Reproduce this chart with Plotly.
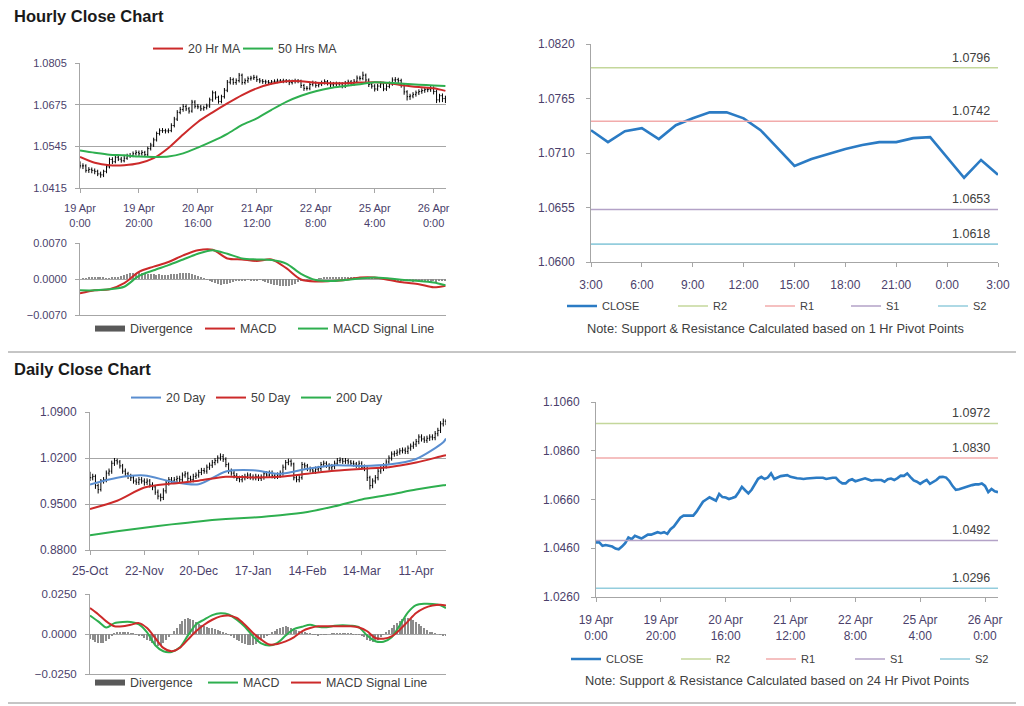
import plotly.graph_objects as go

# ---------------- DATA ----------------
# Hourly bars 19 Apr 0:00 .. 26 Apr ~4:00 (125 bars, weekend skipped)
hourly_ticks = [0, 20, 40, 60, 80, 100, 120]
hourly_ticktext = ["19 Apr<br>0:00", "19 Apr<br>20:00", "20 Apr<br>16:00", "21 Apr<br>12:00",
                   "22 Apr<br>8:00", "25 Apr<br>4:00", "26 Apr<br>0:00"]
hourly_first_open = 1.0490
hourly_close = [
    1.0484, 1.0484, 1.0470, 1.0473, 1.0470, 1.0467, 1.0459, 1.0456, 1.0467, 1.0481,
    1.0504, 1.0497, 1.0511, 1.0505, 1.0500, 1.0508, 1.0516, 1.0516, 1.0522, 1.0526,
    1.0522, 1.0526, 1.0519, 1.0538, 1.0549, 1.0565, 1.0585, 1.0594, 1.0594, 1.0593,
    1.0594, 1.0610, 1.0630, 1.0651, 1.0660, 1.0669, 1.0662, 1.0655, 1.0683, 1.0670,
    1.0668, 1.0662, 1.0666, 1.0671, 1.0690, 1.0712, 1.0698, 1.0685, 1.0700, 1.0720,
    1.0745, 1.0753, 1.0744, 1.0750, 1.0767, 1.0744, 1.0750, 1.0756, 1.0758, 1.0760,
    1.0753, 1.0749, 1.0747, 1.0746, 1.0744, 1.0746, 1.0748, 1.0749, 1.0749, 1.0749,
    1.0749, 1.0744, 1.0747, 1.0749, 1.0749, 1.0735, 1.0726, 1.0726, 1.0738, 1.0743,
    1.0735, 1.0739, 1.0744, 1.0747, 1.0742, 1.0737, 1.0740, 1.0740, 1.0740, 1.0733,
    1.0743, 1.0746, 1.0740, 1.0748, 1.0758, 1.0757, 1.0767, 1.0752, 1.0738, 1.0733,
    1.0724, 1.0733, 1.0740, 1.0724, 1.0732, 1.0740, 1.0752, 1.0753, 1.0750, 1.0736,
    1.0715, 1.0700, 1.0702, 1.0707, 1.0712, 1.0716, 1.0719, 1.0722, 1.0722, 1.0726,
    1.0716, 1.0690, 1.0703, 1.0694, 1.0690]
hourly_high = [
    1.0498, 1.0492, 1.0489, 1.0480, 1.0479, 1.0476, 1.0472, 1.0466, 1.0472, 1.0487,
    1.0510, 1.0511, 1.0518, 1.0516, 1.0512, 1.0515, 1.0522, 1.0524, 1.0529, 1.0533,
    1.0532, 1.0533, 1.0531, 1.0544, 1.0556, 1.0572, 1.0591, 1.0601, 1.0602, 1.0600,
    1.0601, 1.0617, 1.0637, 1.0658, 1.0668, 1.0677, 1.0676, 1.0668, 1.0690, 1.0689,
    1.0677, 1.0674, 1.0672, 1.0678, 1.0697, 1.0719, 1.0717, 1.0703, 1.0706, 1.0727,
    1.0752, 1.0761, 1.0759, 1.0757, 1.0774, 1.0772, 1.0757, 1.0763, 1.0765, 1.0768,
    1.0766, 1.0758, 1.0755, 1.0753, 1.0752, 1.0752, 1.0754, 1.0756, 1.0755, 1.0756,
    1.0755, 1.0754, 1.0753, 1.0756, 1.0755, 1.0753, 1.0740, 1.0733, 1.0744, 1.0750,
    1.0748, 1.0745, 1.0750, 1.0754, 1.0752, 1.0748, 1.0746, 1.0747, 1.0746, 1.0745,
    1.0749, 1.0753, 1.0752, 1.0755, 1.0766, 1.0765, 1.0778, 1.0772, 1.0757, 1.0744,
    1.0739, 1.0740, 1.0747, 1.0746, 1.0739, 1.0747, 1.0760, 1.0761, 1.0759, 1.0756,
    1.0741, 1.0720, 1.0709, 1.0714, 1.0719, 1.0723, 1.0726, 1.0729, 1.0730, 1.0733,
    1.0732, 1.0722, 1.0709, 1.0710, 1.0703]
hourly_low = [
    1.0476, 1.0474, 1.0463, 1.0462, 1.0461, 1.0458, 1.0452, 1.0447, 1.0449, 1.0461,
    1.0476, 1.0490, 1.0492, 1.0499, 1.0494, 1.0495, 1.0503, 1.0509, 1.0511, 1.0516,
    1.0515, 1.0516, 1.0512, 1.0514, 1.0532, 1.0543, 1.0560, 1.0579, 1.0587, 1.0585,
    1.0586, 1.0589, 1.0604, 1.0624, 1.0645, 1.0653, 1.0655, 1.0647, 1.0650, 1.0663,
    1.0661, 1.0655, 1.0656, 1.0660, 1.0665, 1.0684, 1.0691, 1.0678, 1.0679, 1.0694,
    1.0714, 1.0738, 1.0737, 1.0737, 1.0744, 1.0737, 1.0738, 1.0743, 1.0750, 1.0752,
    1.0746, 1.0742, 1.0740, 1.0739, 1.0737, 1.0738, 1.0740, 1.0742, 1.0743, 1.0742,
    1.0743, 1.0736, 1.0738, 1.0741, 1.0742, 1.0727, 1.0718, 1.0719, 1.0720, 1.0732,
    1.0728, 1.0729, 1.0733, 1.0738, 1.0735, 1.0730, 1.0731, 1.0733, 1.0734, 1.0726,
    1.0727, 1.0737, 1.0733, 1.0734, 1.0742, 1.0750, 1.0751, 1.0745, 1.0730, 1.0725,
    1.0716, 1.0718, 1.0727, 1.0717, 1.0718, 1.0726, 1.0734, 1.0745, 1.0742, 1.0728,
    1.0706, 1.0688, 1.0690, 1.0695, 1.0700, 1.0705, 1.0709, 1.0712, 1.0714, 1.0715,
    1.0707, 1.0680, 1.0682, 1.0683, 1.0680]

# Hourly moving averages / MACD, read every 5 hours
ma_hours = [0, 5, 10, 15, 20, 25, 30, 35, 40, 45, 50, 55, 60, 65, 70, 75, 80, 85, 90,
            95, 100, 105, 110, 115, 120, 124]
ma20_hr = [1.0512, 1.0494, 1.0486, 1.0486, 1.0492, 1.0508, 1.0540, 1.0582, 1.0621, 1.0651,
           1.0679, 1.0705, 1.0726, 1.0740, 1.0748, 1.0748, 1.0743, 1.0742, 1.0742, 1.0744,
           1.0745, 1.0742, 1.0735, 1.0730, 1.0726, 1.0718]
ma50_hr = [1.0532, 1.0525, 1.0519, 1.0517, 1.0513, 1.0512, 1.0513, 1.0523, 1.0541, 1.0561,
           1.0584, 1.0612, 1.0632, 1.0659, 1.0684, 1.0703, 1.0717, 1.0727, 1.0733, 1.0739,
           1.0745, 1.0743, 1.0740, 1.0737, 1.0735, 1.0733]
macd_hr = [-0.0028, -0.0022, -0.0020, -0.0008, 0.0014, 0.0024, 0.0033, 0.0046, 0.0056, 0.0057,
           0.0040, 0.0038, 0.0035, 0.0038, 0.0021, -0.0001, -0.0005, -0.0004, -0.0002, 0.0003,
           0.0003, -0.0002, -0.0007, -0.0010, -0.0016, -0.0013]
signal_hr = [-0.0022, -0.0022, -0.0020, -0.0015, 0.0006, 0.0017, 0.0027, 0.0038, 0.0049, 0.0056,
             0.0049, 0.0040, 0.0038, 0.0037, 0.0030, 0.0010, -0.0002, -0.0004, -0.0002, 0.0001,
             0.0003, 0.0001, -0.0002, -0.0004, -0.0007, -0.0012]
divergence_hr = [
    0.0000, 0.0001, 0.0001, 0.0002, 0.0002, 0.0003, 0.0003, 0.0002, 0.0002, 0.0001,
    0.0001, 0.0002, 0.0003, 0.0004, 0.0006, 0.0008, 0.0010, 0.0011, 0.0012, 0.0012,
    0.0013, 0.0012, 0.0011, 0.0010, 0.0009, 0.0009, 0.0008, 0.0009, 0.0008, 0.0008,
    0.0008, 0.0009, 0.0009, 0.0010, 0.0011, 0.0012, 0.0012, 0.0011, 0.0009, 0.0007,
    0.0005, 0.0003, 0.0001, -0.0001, -0.0003, -0.0006, -0.0008, -0.0010, -0.0011, -0.0010,
    -0.0009, -0.0008, -0.0006, -0.0004, -0.0003, -0.0002, -0.0002, -0.0001, -0.0002, -0.0003,
    -0.0002, -0.0001, -0.0003, -0.0005, -0.0007, -0.0009, -0.0011, -0.0012, -0.0013, -0.0014,
    -0.0014, -0.0013, -0.0011, -0.0009, -0.0006, -0.0004, -0.0002, -0.0001, 0.0000, 0.0000,
    0.0000, 0.0001, 0.0001, 0.0002, 0.0002, 0.0003, 0.0003, 0.0003, 0.0003, 0.0002,
    0.0002, 0.0003, 0.0002, 0.0002, 0.0003, 0.0002, 0.0002, 0.0002, 0.0003, 0.0002,
    0.0002, 0.0001, 0.0001, 0.0000, -0.0001, -0.0001, -0.0002, -0.0002, -0.0003, -0.0003,
    -0.0003, -0.0004, -0.0004, -0.0005, -0.0004, -0.0005, -0.0005, -0.0004, -0.0005, -0.0005,
    -0.0004, -0.0005, -0.0004, -0.0003, -0.0004]

# Last 24 hours close (top right)
last24_ticktext = ["3:00", "6:00", "9:00", "12:00", "15:00", "18:00", "21:00", "0:00", "3:00"]
last24_close = [1.0733, 1.0721, 1.0732, 1.0735, 1.0724, 1.0738, 1.0745, 1.0751, 1.0751, 1.0745,
                1.0733, 1.0715, 1.0697, 1.0704, 1.0709, 1.0714, 1.0718, 1.0721, 1.0721, 1.0725,
                1.0726, 1.0705, 1.0685, 1.0703, 1.0688]
levels_1hr = {"R2": 1.0796, "R1": 1.0742, "S1": 1.0653, "S2": 1.0618}
levels_24hr = {"R2": 1.0972, "R1": 1.0830, "S1": 1.0492, "S2": 1.0296}

# Daily bars 25-Oct .. 26-Apr (132 trading days)
daily_ticks = [0, 20, 40, 60, 80, 100, 120]
daily_ticktext = ["25-Oct", "22-Nov", "20-Dec", "17-Jan", "14-Feb", "14-Mar", "11-Apr"]
daily_first_open = 0.995
daily_close = [
    0.990, 0.992, 0.978, 0.972, 0.985, 0.987, 0.997, 1.000, 1.012, 1.016,
    1.014, 1.008, 1.000, 0.996, 0.992, 0.990, 0.985, 0.983, 0.987, 0.985,
    0.983, 0.985, 0.979, 0.976, 0.968, 0.962, 0.960, 0.970, 0.982, 0.987,
    0.985, 0.987, 0.989, 0.987, 0.994, 0.996, 0.989, 0.987, 0.992, 0.994,
    0.998, 1.001, 1.000, 1.006, 1.009, 1.013, 1.016, 1.020, 1.022, 1.018,
    1.010, 1.000, 0.997, 0.993, 0.989, 0.987, 0.990, 0.992, 0.994, 0.991,
    0.990, 0.992, 0.989, 0.991, 0.996, 0.994, 0.997, 0.993, 0.992, 0.994,
    0.997, 1.006, 1.013, 1.015, 1.011, 0.990, 0.987, 0.990, 1.010, 1.008,
    1.004, 1.002, 1.000, 1.003, 1.004, 1.010, 1.012, 1.009, 1.005, 1.007,
    1.012, 1.016, 1.017, 1.015, 1.016, 1.014, 1.012, 1.011, 1.009, 1.012,
    1.006, 1.004, 0.990, 0.978, 0.985, 0.990, 1.000, 1.004, 1.008, 1.014,
    1.020, 1.026, 1.027, 1.029, 1.031, 1.032, 1.030, 1.035, 1.038, 1.041,
    1.045, 1.052, 1.049, 1.047, 1.050, 1.052, 1.051, 1.057, 1.062, 1.072,
    1.076, 1.074]
daily_high = [
    0.999, 0.996, 0.995, 0.981, 0.988, 0.991, 1.001, 1.004, 1.016, 1.020,
    1.019, 1.017, 1.011, 1.004, 0.999, 0.996, 0.994, 0.989, 0.991, 0.991,
    0.989, 0.989, 0.988, 0.983, 0.979, 0.972, 0.966, 0.974, 0.986, 0.991,
    0.991, 0.991, 0.993, 0.993, 0.998, 1.000, 0.999, 0.993, 0.996, 0.998,
    1.002, 1.005, 1.005, 1.010, 1.013, 1.017, 1.020, 1.024, 1.027, 1.026,
    1.021, 1.013, 1.004, 1.001, 0.997, 0.993, 0.994, 0.996, 0.998, 0.997,
    0.995, 0.996, 0.995, 0.995, 1.000, 1.000, 1.001, 1.001, 0.997, 0.998,
    1.001, 1.010, 1.017, 1.019, 1.018, 1.013, 0.993, 0.994, 1.014, 1.013,
    1.011, 1.007, 1.005, 1.007, 1.008, 1.014, 1.016, 1.015, 1.012, 1.011,
    1.016, 1.020, 1.021, 1.020, 1.020, 1.019, 1.017, 1.016, 1.014, 1.016,
    1.015, 1.010, 1.007, 0.993, 0.989, 0.994, 1.004, 1.008, 1.012, 1.018,
    1.024, 1.030, 1.031, 1.033, 1.035, 1.036, 1.036, 1.039, 1.042, 1.045,
    1.049, 1.056, 1.056, 1.053, 1.054, 1.056, 1.056, 1.061, 1.066, 1.076,
    1.080, 1.079]
daily_low = [
    0.985, 0.986, 0.973, 0.966, 0.969, 0.981, 0.983, 0.993, 0.996, 1.008,
    1.010, 1.004, 0.996, 0.991, 0.988, 0.985, 0.981, 0.979, 0.979, 0.981,
    0.978, 0.979, 0.975, 0.971, 0.964, 0.957, 0.954, 0.956, 0.966, 0.978,
    0.981, 0.981, 0.983, 0.983, 0.983, 0.990, 0.985, 0.983, 0.983, 0.988,
    0.990, 0.994, 0.996, 0.996, 1.002, 1.005, 1.009, 1.012, 1.016, 1.014,
    1.006, 0.996, 0.993, 0.989, 0.985, 0.983, 0.983, 0.986, 0.988, 0.987,
    0.986, 0.986, 0.985, 0.985, 0.987, 0.990, 0.990, 0.989, 0.988, 0.988,
    0.990, 0.993, 1.002, 1.009, 1.007, 0.986, 0.983, 0.983, 0.987, 1.004,
    1.000, 0.998, 0.996, 0.996, 0.999, 1.000, 1.006, 1.005, 1.001, 1.001,
    1.003, 1.008, 1.012, 1.011, 1.011, 1.010, 1.008, 1.007, 1.005, 1.005,
    1.002, 1.000, 0.985, 0.972, 0.974, 0.981, 0.986, 0.996, 1.000, 1.004,
    1.010, 1.016, 1.022, 1.023, 1.025, 1.027, 1.026, 1.026, 1.031, 1.034,
    1.037, 1.041, 1.045, 1.043, 1.043, 1.046, 1.047, 1.047, 1.053, 1.058,
    1.068, 1.070]

ma_days = [0, 10, 20, 30, 40, 50, 60, 70, 80, 90, 100, 110, 120, 130, 131]
ma20_day = [0.9795, 0.9900, 0.9935, 0.9840, 0.9800, 0.9995, 1.0014, 0.9960, 1.0035, 1.0090,
            1.0080, 1.0100, 1.0185, 1.0440, 1.0496]
ma50_day = [0.9425, 0.9550, 0.9750, 0.9810, 0.9855, 0.9915, 0.9905, 0.9915, 0.9960, 1.0005,
            1.0035, 1.0060, 1.0130, 1.0235, 1.0243]
ma200_day = [0.9025, 0.9085, 0.9140, 0.9190, 0.9235, 0.9270, 0.9295, 0.9330, 0.9380, 0.9465,
             0.9570, 0.9640, 0.9720, 0.9785, 0.9790]

macd_days = [0, 3, 6, 9, 12, 15, 18, 21, 24, 27, 30, 33, 36, 39, 42, 45, 48, 51, 54, 57, 60,
             63, 66, 69, 72, 75, 78, 81, 84, 87, 90, 93, 96, 99, 102, 105, 108, 111, 114, 117,
             120, 123, 126, 129, 131]
macd_day = [0.0116, 0.0079, 0.0040, 0.0068, 0.0075, 0.0075, 0.0060, 0.0010, -0.0070, -0.0108,
            -0.0112, -0.0085, -0.0010, 0.0060, 0.0090, 0.0118, 0.0130, 0.0122, 0.0090, 0.0045,
            -0.0015, -0.0058, -0.0072, -0.0055, -0.0010, 0.0030, 0.0045, 0.0058, 0.0045, 0.0042,
            0.0052, 0.0054, 0.0052, 0.0042, -0.0010, -0.0045, -0.0048, -0.0020, 0.0055, 0.0135,
            0.0180, 0.0189, 0.0188, 0.0180, 0.0162]
signal_day = [0.0162, 0.0124, 0.0079, 0.0048, 0.0048, 0.0058, 0.0068, 0.0037, -0.0025, -0.0087,
              -0.0108, -0.0087, -0.0035, 0.0017, 0.0058, 0.0089, 0.0110, 0.0116, 0.0100, 0.0058,
              0.0006, -0.0035, -0.0066, -0.0062, -0.0046, -0.0021, 0.0017, 0.0037, 0.0048, 0.0048,
              0.0048, 0.0048, 0.0048, 0.0041, 0.0017, -0.0025, -0.0029, -0.0015, 0.0027, 0.0079,
              0.0131, 0.0162, 0.0178, 0.0183, 0.0178]
divergence_day = [
    -0.0030, -0.0040, -0.0048, -0.0055, -0.0058, -0.0055, -0.0045, -0.0030, -0.0010, 0.0005,
    0.0010, 0.0012, 0.0012, 0.0010, 0.0008, 0.0005, 0.0002, -0.0002, -0.0008, -0.0015,
    -0.0025, -0.0035, -0.0045, -0.0058, -0.0068, -0.0075, -0.0070, -0.0058, -0.0040, -0.0020,
    0.0000, 0.0020, 0.0040, 0.0060, 0.0080, 0.0095, 0.0100, 0.0095, 0.0085, 0.0075,
    0.0065, 0.0058, 0.0050, 0.0045, 0.0040, 0.0035, 0.0030, 0.0025, 0.0020, 0.0012,
    0.0005, -0.0005, -0.0015, -0.0025, -0.0035, -0.0045, -0.0055, -0.0062, -0.0068, -0.0070,
    -0.0068, -0.0060, -0.0050, -0.0040, -0.0028, -0.0015, -0.0005, 0.0008, 0.0020, 0.0030,
    0.0038, 0.0045, 0.0048, 0.0045, 0.0040, 0.0032, 0.0025, 0.0018, 0.0012, 0.0008,
    0.0005, 0.0002, -0.0002, -0.0005, -0.0008, -0.0006, -0.0004, -0.0002, 0.0000, 0.0002,
    0.0003, 0.0004, 0.0005, 0.0004, 0.0003, 0.0002, 0.0001, -0.0001, -0.0002, -0.0004,
    -0.0010, -0.0020, -0.0035, -0.0045, -0.0050, -0.0045, -0.0035, -0.0020, -0.0005, 0.0010,
    0.0025, 0.0040, 0.0055, 0.0070, 0.0082, 0.0092, 0.0098, 0.0100, 0.0095, 0.0085,
    0.0072, 0.0060, 0.0048, 0.0035, 0.0025, 0.0015, 0.0008, 0.0003, 0.0000, -0.0005,
    -0.0008, -0.0012]

# ---------------- STYLE ----------------
W, H = 1024, 706
OFF = 8  # page body margin: figure origin sits 8px right/down of the window origin
FONT = "Liberation Sans, Arial, sans-serif"
TICK_COLOR = "#4B3F6B"
GRID = "#A6A6A6"
RED = "#CC2A2A"
GREEN = "#2EAF4F"
BLUE_MA = "#5A8ED0"
CLOSE_BLUE = "#2B7BC4"
LEVEL_COLORS = {"R2": "#C4D79B", "R1": "#F2ABAB", "S1": "#B3A2C7", "S2": "#93CDDD"}
LEG_BIG = 12.4
LEG_SMALL = 11


def fx(p):
    return (p - OFF) / W


def fy(p):
    return 1 - (p - OFF) / H


def dom_x(a, b):
    return [fx(a), fx(b)]


def dom_y(top, bottom):
    return [fy(bottom), fy(top)]


hourly_x = list(range(len(hourly_close)))
hourly_open = [hourly_first_open] + hourly_close[:-1]
daily_x = list(range(len(daily_close)))
daily_open = [daily_first_open] + daily_close[:-1]
last24_x = list(range(len(last24_close)))

fig = go.Figure()
legends = {}


def new_legend(x_line, y_mid, size):
    """One single-entry legend per item, placed where the reference shows it."""
    k = len(legends) + 1
    key = "legend" if k == 1 else f"legend{k}"
    legends[key] = dict(orientation="h", yanchor="middle", xanchor="left",
                        x=fx(x_line - 7), y=fy(y_mid), bgcolor="rgba(0,0,0,0)",
                        font=dict(family=FONT, size=size, color="#404040"),
                        itemclick=False, itemdoubleclick=False)
    return key


def line_trace(x, y, name, color, width, xa, ya, leg=None, smooth=True):
    ln = dict(color=color, width=width)
    if smooth:
        ln.update(shape="spline", smoothing=0.8)
    return go.Scatter(x=x, y=y, mode="lines", name=name, line=ln, xaxis=xa, yaxis=ya,
                      showlegend=leg is not None, legend=leg if leg else "legend",
                      hoverinfo="skip")


# ---- Top-left: hourly bars + MAs
fig.add_trace(go.Ohlc(x=hourly_x, open=hourly_open, high=hourly_high, low=hourly_low,
                      close=hourly_close, xaxis="x", yaxis="y", showlegend=False,
                      increasing=dict(line=dict(color="black", width=1)),
                      decreasing=dict(line=dict(color="black", width=1)),
                      tickwidth=0.35, hoverinfo="skip"))
fig.add_trace(line_trace(ma_hours, ma20_hr, "20 Hr MA", RED, 2, "x", "y",
                         new_legend(155, 49, LEG_BIG)))
fig.add_trace(line_trace(ma_hours, ma50_hr, "50 Hrs MA", GREEN, 2, "x", "y",
                         new_legend(245, 49, LEG_BIG)))

# ---- Top-left MACD
fig.add_trace(go.Bar(x=hourly_x, y=divergence_hr, marker=dict(color="#8C8C8C", line=dict(width=0)),
                     width=0.45, showlegend=False, xaxis="x2", yaxis="y2", hoverinfo="skip"))
fig.add_trace(line_trace([None], [None], "Divergence", "#595959", 6, "x2", "y2",
                         new_legend(97, 329, LEG_BIG), smooth=False))
fig.add_trace(line_trace(ma_hours, macd_hr, "MACD", RED, 2, "x2", "y2",
                         new_legend(207, 329, LEG_BIG)))
fig.add_trace(line_trace(ma_hours, signal_hr, "MACD Signal Line", GREEN, 2, "x2", "y2",
                         new_legend(300, 329, LEG_BIG)))

# ---- Top-right: last 24h close with pivot levels
fig.add_trace(line_trace(last24_x, last24_close, "CLOSE", CLOSE_BLUE, 2.6, "x3", "y3",
                         new_legend(569, 306, LEG_SMALL), smooth=False))
for (name, val), xl in zip(levels_1hr.items(), [680, 767, 853, 940]):
    fig.add_trace(line_trace([last24_x[0], last24_x[-1]], [val, val], name, LEVEL_COLORS[name],
                             1.6, "x3", "y3", new_legend(xl, 306, LEG_SMALL), smooth=False))

# ---- Bottom-left: daily bars + MAs
fig.add_trace(go.Ohlc(x=daily_x, open=daily_open, high=daily_high, low=daily_low,
                      close=daily_close, xaxis="x4", yaxis="y4", showlegend=False,
                      increasing=dict(line=dict(color="black", width=1)),
                      decreasing=dict(line=dict(color="black", width=1)),
                      tickwidth=0.35, hoverinfo="skip"))
fig.add_trace(line_trace(ma_days, ma20_day, "20 Day", BLUE_MA, 2, "x4", "y4",
                         new_legend(133, 398, LEG_BIG)))
fig.add_trace(line_trace(ma_days, ma50_day, "50 Day", RED, 2, "x4", "y4",
                         new_legend(218, 398, LEG_BIG)))
fig.add_trace(line_trace(ma_days, ma200_day, "200 Day", GREEN, 2, "x4", "y4",
                         new_legend(303, 398, LEG_BIG)))

# ---- Bottom-left MACD
fig.add_trace(go.Bar(x=daily_x, y=divergence_day, marker=dict(color="#8C8C8C", line=dict(width=0)),
                     width=0.45, showlegend=False, xaxis="x5", yaxis="y5", hoverinfo="skip"))
fig.add_trace(line_trace([None], [None], "Divergence", "#595959", 6, "x5", "y5",
                         new_legend(97, 683, LEG_BIG), smooth=False))
fig.add_trace(line_trace(macd_days, macd_day, "MACD", GREEN, 2, "x5", "y5",
                         new_legend(210, 683, LEG_BIG)))
fig.add_trace(line_trace(macd_days, signal_day, "MACD Signal Line", RED, 2, "x5", "y5",
                         new_legend(293, 683, LEG_BIG)))

# ---- Bottom-right: hourly close with 24h pivot levels
fig.add_trace(line_trace(hourly_x, hourly_close, "CLOSE", CLOSE_BLUE, 2.6, "x6", "y6",
                         new_legend(573, 659, LEG_SMALL), smooth=False))
for (name, val), xl in zip(levels_24hr.items(), [683, 768, 857, 942]):
    fig.add_trace(line_trace([hourly_x[0], hourly_x[-1]], [val, val], name, LEVEL_COLORS[name],
                             1.6, "x6", "y6", new_legend(xl, 659, LEG_SMALL), smooth=False))

# ---------------- AXES ----------------


def tfont(size):
    return dict(family=FONT, size=size, color=TICK_COLOR)


def xax(domain, anchor, rng, tickvals=None, ticktext=None, labels=True, standoff=6, fs=11):
    return dict(domain=domain, anchor=anchor, range=rng, showgrid=False, zeroline=False,
                showline=True, linecolor=GRID, linewidth=1, ticks="outside" if labels else "",
                ticklen=4, tickcolor=GRID, tickvals=tickvals, ticktext=ticktext,
                showticklabels=labels, tickfont=tfont(fs), ticklabelstandoff=standoff,
                rangeslider=dict(visible=False), fixedrange=True, automargin=False)


def yax(domain, anchor, rng, tickvals, grid=True, fmt=".4f", standoff=6, fs=11):
    return dict(domain=domain, anchor=anchor, range=rng, tickvals=tickvals, tickformat=fmt,
                showgrid=grid, gridcolor=GRID, gridwidth=1, zeroline=False, showline=True,
                linecolor=GRID, linewidth=1, ticks="outside", ticklen=4, tickcolor=GRID,
                tickfont=tfont(fs), ticklabelstandoff=standoff, fixedrange=True, automargin=False)


layout = dict(
    width=W, height=H, autosize=False, margin=dict(l=0, r=0, t=0, b=0, autoexpand=False),
    paper_bgcolor="white", plot_bgcolor="white", showlegend=True, bargap=0,
    font=dict(family=FONT, size=11, color="#404040"),
    xaxis=xax(dom_x(80, 446), "y", [0, 124.2], hourly_ticks, hourly_ticktext),
    yaxis=yax(dom_y(63, 188), "x", [1.0415, 1.0805], [1.0415, 1.0545, 1.0675, 1.0805]),
    xaxis2=xax(dom_x(80, 446), "y2", [0, 124.2], labels=False),
    yaxis2=yax(dom_y(243, 315), "x2", [-0.007, 0.007], [-0.007, 0.0, 0.007]),
    xaxis3=xax(dom_x(591, 998), "y3", [0, 24], list(range(0, 25, 3)), last24_ticktext,
               standoff=8, fs=12),
    yaxis3=yax(dom_y(44, 262), "x3", [1.0600, 1.0820],
               [1.0600, 1.0655, 1.0710, 1.0765, 1.0820], grid=False, standoff=9, fs=12),
    xaxis4=xax(dom_x(90, 446), "y4", [0, 131], daily_ticks, daily_ticktext, fs=12),
    yaxis4=yax(dom_y(412, 550), "x4", [0.88, 1.09], [0.88, 0.95, 1.02, 1.09], fs=12),
    xaxis5=xax(dom_x(90, 446), "y5", [0, 131], labels=False),
    yaxis5=yax(dom_y(594, 674), "x5", [-0.025, 0.025], [-0.025, 0.0, 0.025], fs=11.5),
    xaxis6=xax(dom_x(596, 998), "y6", [0, 124], hourly_ticks, hourly_ticktext, standoff=8, fs=12),
    yaxis6=yax(dom_y(402, 597), "x6", [1.0260, 1.1060],
               [1.0260, 1.0460, 1.0660, 1.0860, 1.1060], grid=False, standoff=9, fs=12),
)
layout.update(legends)
fig.update_layout(**layout)

# ---------------- TEXT ----------------
ann = []
ann.append(dict(text="<b>Hourly Close Chart</b>", x=fx(12), y=fy(16), xref="paper", yref="paper",
                xanchor="left", yanchor="middle", showarrow=False,
                font=dict(family=FONT, size=16.5, color="#1A1A1A")))
ann.append(dict(text="<b>Daily Close Chart</b>", x=fx(12), y=fy(369), xref="paper", yref="paper",
                xanchor="left", yanchor="middle", showarrow=False,
                font=dict(family=FONT, size=16.5, color="#1A1A1A")))
ann.append(dict(text="Note: Support & Resistance Calculated based on 1 Hr Pivot Points",
                x=fx(775), y=fy(328), xref="paper", yref="paper", xanchor="center",
                yanchor="middle", showarrow=False, font=dict(family=FONT, size=12.8, color="#404040")))
ann.append(dict(text="Note: Support & Resistance Calculated based on 24 Hr Pivot Points",
                x=fx(777), y=fy(680), xref="paper", yref="paper", xanchor="center",
                yanchor="middle", showarrow=False, font=dict(family=FONT, size=12.8, color="#404040")))
for name, val in levels_1hr.items():
    ann.append(dict(text=f"{val:.4f}", x=last24_x[-1], y=val, xref="x3", yref="y3",
                    xanchor="right", yanchor="bottom", xshift=-6, yshift=1, showarrow=False,
                    font=dict(family=FONT, size=12.5, color="#404040")))
for name, val in levels_24hr.items():
    ann.append(dict(text=f"{val:.4f}", x=hourly_x[-1], y=val, xref="x6", yref="y6",
                    xanchor="right", yanchor="bottom", xshift=-6, yshift=1, showarrow=False,
                    font=dict(family=FONT, size=12.5, color="#404040")))
fig.update_layout(annotations=ann)

# separator lines
fig.update_layout(shapes=[
    dict(type="line", xref="paper", yref="paper", x0=0, x1=1, y0=fy(352), y1=fy(352),
         line=dict(color="#8C8C8C", width=1)),
    dict(type="line", xref="paper", yref="paper", x0=0, x1=1, y0=fy(703), y1=fy(703),
         line=dict(color="#8C8C8C", width=1)),
])

fig.write_html("out.html")
